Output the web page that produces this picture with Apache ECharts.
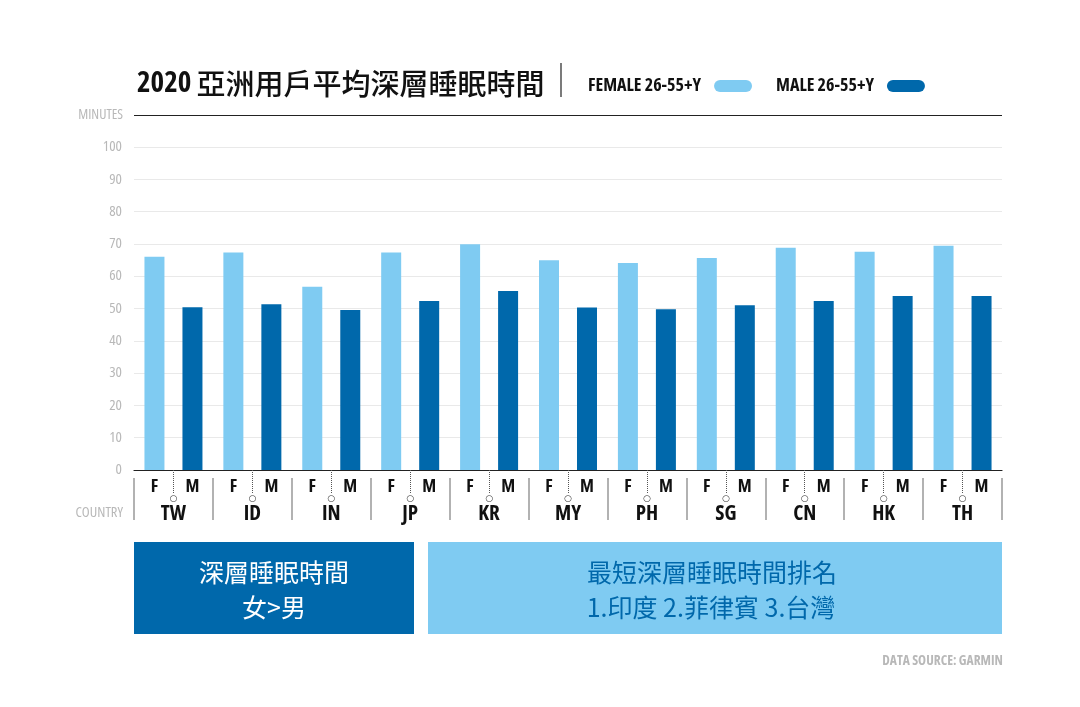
<!DOCTYPE html>
<html>
<head>
<meta charset="utf-8">
<script src="https://cdn.jsdelivr.net/npm/echarts@6/dist/echarts.min.js"></script>
<style>
  html, body { margin: 0; padding: 0; background: #fff; }
  #main { width: 1080px; height: 707px; }
</style>
</head>
<body>
<div id="main"></div>
<script>
var countries = ['TW', 'ID', 'IN', 'JP', 'KR', 'MY', 'PH', 'SG', 'CN', 'HK', 'TH'];
var femaleMinutes = [66.0, 67.3, 56.7, 67.3, 69.9, 64.9, 64.1, 65.6, 68.8, 67.6, 69.4];
var maleMinutes = [50.4, 51.3, 49.5, 52.3, 55.4, 50.3, 49.8, 51.0, 52.3, 53.9, 53.9];
var seriesNames = ['FEMALE 26-55+Y', 'MALE 26-55+Y'];

var LIGHT = '#7fcbf2';
var DARK = '#0068ab';
// condensed look: ask for the narrow width of Open Sans (variable wdth axis)
var narrow = '"Open Sans", "Noto Sans CJK TC", sans-serif';
var squeeze = 'condensed';
var cjk = '"Noto Sans CJK TC", sans-serif';

var myChart = echarts.init(document.getElementById('main'));

var option = {
  backgroundColor: '#fff',
  animation: false,
  title: {
    text: '{d|2020} {c|亞洲用戶平均深層睡眠時間}',
    left: 132,
    top: 64,
    textStyle: {
      rich: {
        d: { fontFamily: narrow, fontStyle: squeeze, fontSize: 29, fontWeight: 'bold', color: '#111' },
        c: { fontFamily: cjk, fontSize: 29, fontWeight: 500, color: '#111' }
      }
    }
  },
  legend: {
    data: seriesNames,
    left: 583,
    top: 72,
    align: 'right',
    itemWidth: 38,
    itemHeight: 12,
    itemGap: 24,
    icon: 'path://M6,0 H32 A6,6 0 0 1 32,12 H6 A6,6 0 0 1 6,0 Z',
    textStyle: {
      fontFamily: narrow,
      fontStyle: squeeze,
      fontSize: 18,
      fontWeight: 'bold',
      color: '#111',
      padding: [0, 8, 0, 0]
    }
  },
  grid: {
    left: 134,
    right: 78,
    top: 147,
    bottom: 237,
    containLabel: false
  },
  xAxis: [{
    type: 'category',
    data: countries,
    axisLine: { lineStyle: { color: '#222', width: 1.2 } },
    axisTick: {
      show: true,
      alignWithLabel: true,
      length: 23,
      lineStyle: { color: '#555', type: 'dotted', width: 1 }
    },
    axisLabel: {
      margin: 9,
      interval: 0,
      formatter: function (v) {
        return '{f|F}{gap|}{m|M}\n{o|○}\n{c|' + v + '}';
      },
      rich: {
        f: { width: 14, align: 'center', fontFamily: narrow, fontStyle: squeeze, fontWeight: 'bold', fontSize: 18, color: '#111', lineHeight: 16 },
        m: { width: 14, align: 'center', fontFamily: narrow, fontStyle: squeeze, fontWeight: 'bold', fontSize: 18, color: '#111', lineHeight: 16 },
        gap: { width: 24 },
        o: { fontSize: 9, fontFamily: 'DejaVu Sans', color: '#333', lineHeight: 8 },
        c: { fontFamily: narrow, fontStyle: squeeze, fontWeight: 'bold', fontSize: 21, color: '#111', lineHeight: 22 }
      }
    }
  }, {
    type: 'category',
    data: countries,
    position: 'bottom',
    offset: 8,
    axisLine: { show: false },
    axisLabel: { show: false },
    axisTick: {
      show: true,
      alignWithLabel: false,
      length: 42,
      lineStyle: { color: '#999', width: 1.5 }
    }
  }],
  yAxis: {
    type: 'value',
    min: 0,
    max: 100,
    interval: 10,
    axisLine: { show: false },
    axisTick: { show: false },
    splitLine: { lineStyle: { color: '#e9e9e9', width: 1 } },
    axisLabel: {
      margin: 12,
      fontFamily: narrow,
      fontStyle: squeeze,
      fontSize: 15,
      color: '#b8b8b8'
    }
  },
  series: [{
    name: seriesNames[0],
    type: 'bar',
    data: femaleMinutes,
    barWidth: 20,
    barGap: '90%',
    itemStyle: { color: LIGHT }
  }, {
    name: seriesNames[1],
    type: 'bar',
    data: maleMinutes,
    barWidth: 20,
    barGap: '90%',
    itemStyle: { color: DARK }
  }],
  graphic: [
    // separator next to title
    { type: 'line', shape: { x1: 561, y1: 63, x2: 561, y2: 97 }, style: { stroke: '#222', lineWidth: 1.2 } },
    // top rule and axis captions
    { type: 'line', shape: { x1: 134, y1: 115.5, x2: 1002, y2: 115.5 }, style: { stroke: '#222', lineWidth: 1.2 } },
    { type: 'text', x: 123, y: 115, style: { text: 'MINUTES', fontFamily: narrow, fontStyle: squeeze, fontSize: 14, fill: '#b8b8b8', align: 'right', verticalAlign: 'middle' } },
    { type: 'text', x: 123, y: 513, style: { text: 'COUNTRY', fontFamily: narrow, fontStyle: squeeze, fontSize: 14.5, fill: '#b8b8b8', align: 'right', verticalAlign: 'middle' } },
    // summary boxes
    { type: 'rect', shape: { x: 134, y: 542, width: 280, height: 92 }, style: { fill: DARK } },
    { type: 'text', x: 274, y: 572, style: { text: '深層睡眠時間', fontFamily: cjk, fontSize: 25, fill: '#fff', align: 'center', verticalAlign: 'middle' } },
    { type: 'text', x: 274, y: 607, style: { text: '女>男', fontFamily: cjk, fontSize: 25, fill: '#fff', align: 'center', verticalAlign: 'middle' } },
    { type: 'rect', shape: { x: 428, y: 542, width: 574, height: 92 }, style: { fill: LIGHT } },
    { type: 'text', x: 712, y: 572, style: { text: '最短深層睡眠時間排名', fontFamily: cjk, fontSize: 25, fill: DARK, align: 'center', verticalAlign: 'middle' } },
    { type: 'text', x: 711, y: 607, style: { text: '1.印度 2.菲律賓 3.台灣', fontFamily: cjk, fontSize: 25, fill: DARK, align: 'center', verticalAlign: 'middle' } },
    // source
    { type: 'text', x: 1003, y: 661, style: { text: 'DATA SOURCE: GARMIN', fontFamily: narrow, fontStyle: squeeze, fontSize: 13.5, fontWeight: 'bold', fill: '#b8b8b8', align: 'right', verticalAlign: 'middle' } }
  ]
};
myChart.setOption(option);
window.addEventListener('resize', function () {
  myChart.resize();
});
</script>
</body>
</html>
